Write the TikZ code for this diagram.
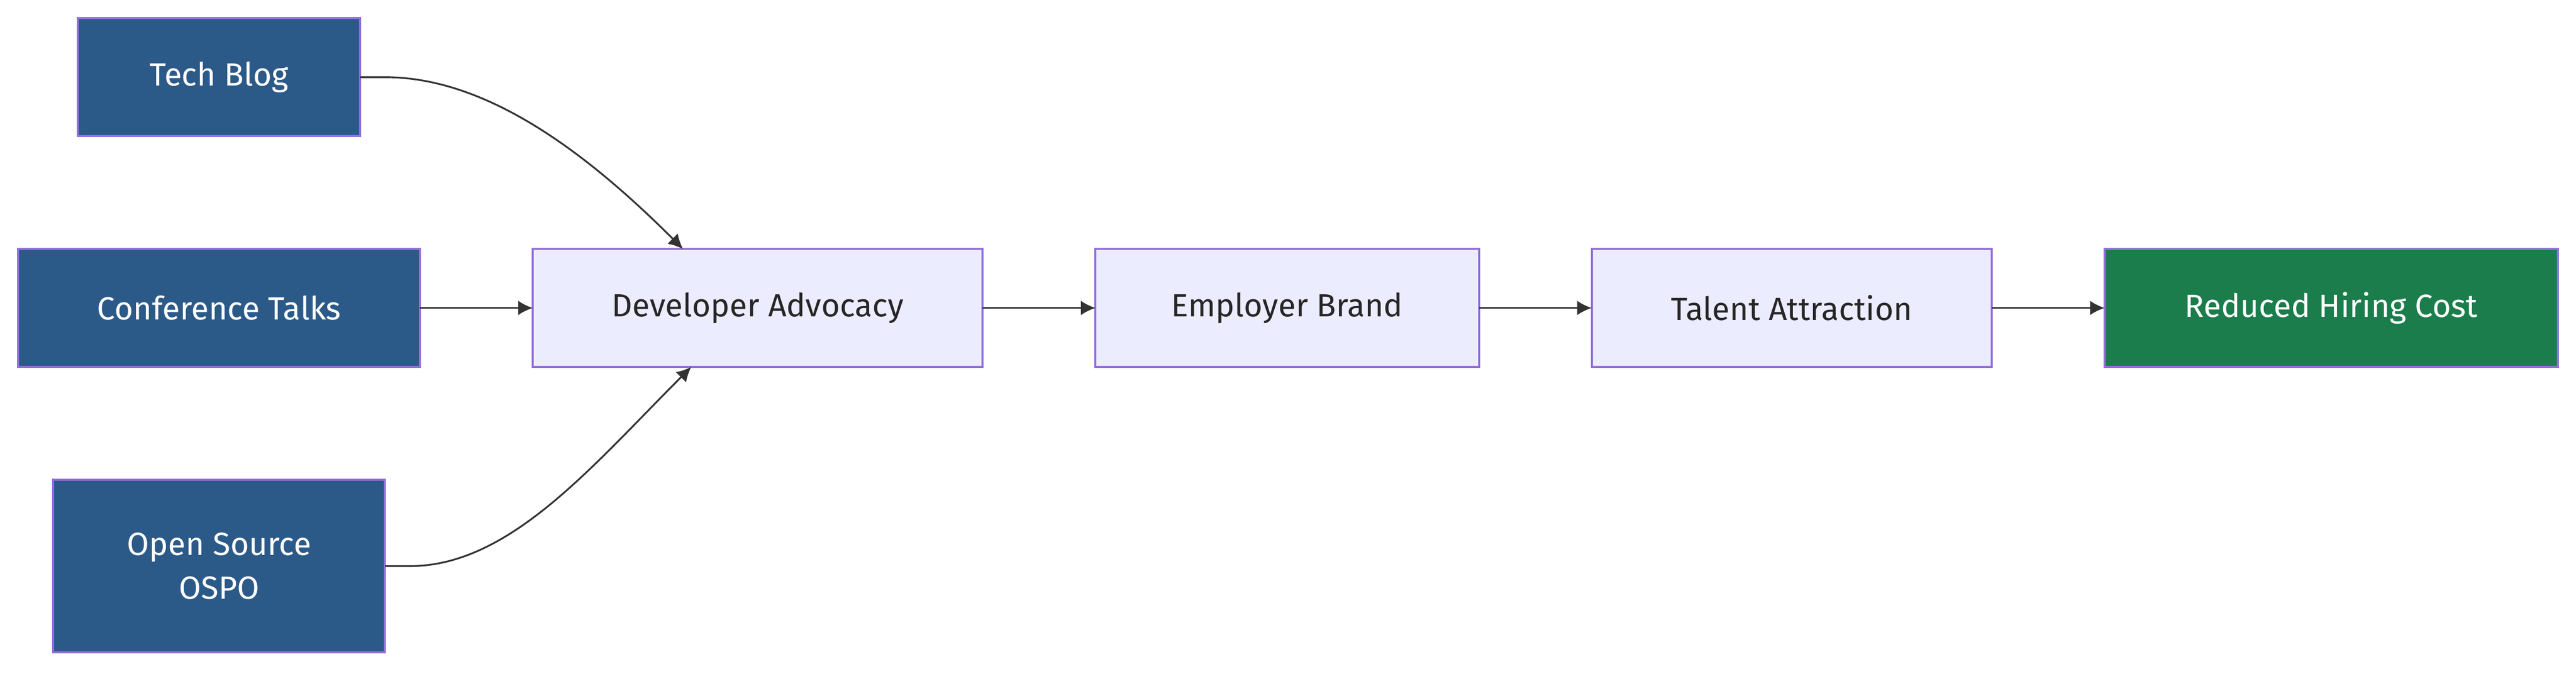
\documentclass[tikz,border=0pt]{standalone}
\usepackage{fontspec}
\setmainfont{Fira Sans}
\usetikzlibrary{arrows.meta}
\definecolor{srcblue}{HTML}{2C5A88}
\definecolor{lavfill}{HTML}{ECECFF}
\definecolor{lavline}{HTML}{9370DB}
\definecolor{goodgreen}{HTML}{1B7D4B}
\tikzset{
  box/.style={draw=lavline, line width=0.7pt, inner sep=0, outer sep=0, minimum height=71*0.02cm, font=\fontsize{11pt}{15pt}\selectfont, align=center},
  sbox/.style={box, fill=srcblue, text=white},
  nbox/.style={box, fill=lavfill, text=black!85},
  gbox/.style={box, fill=goodgreen, text=white},
  flow/.style={draw=black!80, line width=0.6pt, -{Latex[length=5pt,width=5pt]}}
}
\begin{document}
\begin{tikzpicture}[x=0.02cm, y=-0.02cm]
    \useasboundingbox (0, 0) rectangle (1552, 406);
    % sources
    \node[sbox, minimum width=170*0.02cm]                   (blog) at (132, 46.5) {Tech Blog};
    \node[sbox, minimum width=242*0.02cm]                   (talks) at (132, 185.5) {Conference Talks};
    \node[sbox, minimum width=200*0.02cm, minimum height=104*0.02cm] (ospo) at (132, 341) {Open Source\\OSPO};
    % chain
    \node[nbox, minimum width=271*0.02cm]                   (advocacy) at (456.5, 185.5) {Developer Advocacy};
    \node[nbox, minimum width=231*0.02cm]                   (brand) at (775.5, 185.5) {Employer Brand};
    \node[nbox, minimum width=241*0.02cm]                   (talent) at (1079.5, 185.5) {Talent Attraction};
    \node[gbox, minimum width=273*0.02cm]                   (cost) at (1404.5, 185.5) {Reduced Hiring Cost};
    \draw[flow] (blog.east) -- +(15, 0) .. controls +(60, 0) and +(-60, -60) .. ([xshift=-45*0.02cm]advocacy.north);
    \draw[flow] (ospo.east) -- +(15, 0) .. controls +(60, 0) and +(-60, 60) .. ([xshift=-40*0.02cm]advocacy.south);
    \draw[flow] (talks) -- (advocacy);
    \draw[flow] (advocacy) -- (brand);
    \draw[flow] (brand) -- (talent);
    \draw[flow] (talent) -- (cost);
\end{tikzpicture}
\end{document}
